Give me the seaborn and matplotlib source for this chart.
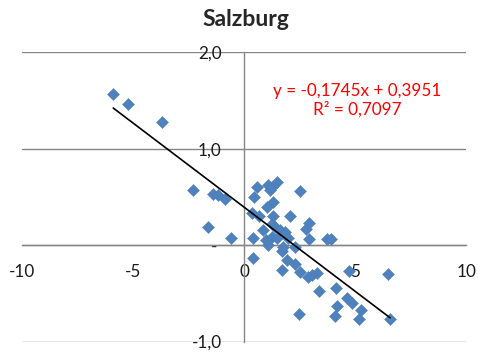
import matplotlib
matplotlib.use("Agg")
import matplotlib.pyplot as plt
import seaborn as sns
import numpy as np
import pandas as pd

# ---- data ----
x_vals = [-5.89, -5.24, -3.69, -2.31, -1.62, -1.38, -1.16, -0.86, -0.60,
          0.35, 0.42, 0.45, 0.60, 0.69, 0.42, 0.84, 0.99, 1.10, 1.02, 1.10,
          1.17, 1.25, 1.50, 1.32, 1.32, 1.25, 1.25, 1.47, 1.40, 1.62, 1.85,
          2.00, 2.07, 1.70, 1.77, 1.70, 1.95, 2.30, 2.30, 2.52, 2.52, 2.79,
          2.92, 2.94, 2.90, 3.05, 3.30, 3.39, 2.49, 3.72, 3.90, 4.14, 4.20,
          4.08, 4.74, 4.62, 4.85, 5.27, 5.18, 6.50, 6.58]
y_vals = [1.57, 1.46, 1.28, 0.57, 0.19, 0.535, 0.525, 0.48, 0.07,
          0.335, 0.07, 0.50, 0.60, 0.30, -0.13, 0.16, 0.05, 0.00, 0.40, 0.62,
          0.57, 0.60, 0.66, 0.45, 0.30, 0.22, 0.09, 0.07, 0.19, 0.155, 0.14,
          0.07, 0.30, -0.06, -0.02, -0.26, -0.155, -0.19, -0.02, 0.56, -0.28, 0.17,
          0.235, 0.06, -0.33, -0.31, -0.29, -0.47, -0.71, 0.06, 0.06, -0.44, -0.63,
          -0.73, -0.27, -0.55, -0.60, -0.67, -0.77, -0.30, -0.77]
slope = -0.1745
intercept = 0.3951
equation_text = "y = -0,1745x + 0,3951\nR² = 0,7097"
title_text = "Salzburg"
x_ticks = [-10, -5, 0, 5, 10]
x_tick_labels = ["-10", "-5", "0", "5", "10"]
y_ticks = [-1.0, 0.0, 1.0, 2.0]
y_tick_labels = ["-1,0", "- ", "1,0", "2,0"]

df = pd.DataFrame({"x": x_vals, "y": y_vals})

sns.set_style("white")
plt.rcParams["font.family"] = ["Lato", "DejaVu Sans"]

fig = plt.figure(figsize=(4.78, 3.54), dpi=100)
ax = fig.add_axes([0.046, 0.035, 0.929, 0.817])

grey = "#868686"
ax.set_xlim(-10, 10)
ax.set_ylim(-1, 2)
ax.set_yticks(y_ticks)
ax.set_yticklabels(y_tick_labels)
ax.set_xticks(x_ticks)
ax.set_xticklabels(x_tick_labels)
ax.yaxis.grid(True, color=grey, linewidth=1.0)
ax.xaxis.grid(False)
ax.set_axisbelow(True)

for s in ["top", "right"]:
    ax.spines[s].set_visible(False)
ax.spines["left"].set_position(("data", 0))
ax.spines["bottom"].set_position(("data", 0))
for s in ["left", "bottom"]:
    ax.spines[s].set_color(grey)
    ax.spines[s].set_linewidth(1.0)

ax.tick_params(axis="x", direction="out", length=5, width=1, color=grey,
               pad=8.5, labelsize=12.3, labelcolor="#1a1a1a")
ax.tick_params(axis="y", direction="out", length=4, width=1, color=grey,
               pad=12, labelsize=12.3, labelcolor="#1a1a1a")

sns.scatterplot(data=df, x="x", y="y", marker="D", s=38, color="#4F81BD",
                edgecolor="#4A7EBB", linewidth=0.3, ax=ax, zorder=3)

xl = np.array([min(x_vals), max(x_vals)])
ax.plot(xl, slope * xl + intercept, color="black", linewidth=1.2, zorder=4)

ax.text(5.1, 1.50, equation_text, color="#FF0000", fontsize=12.3,
        ha="center", va="center", multialignment="center", linespacing=1.15)

ax.set_xlabel("")
ax.set_ylabel("")

fig.text(246 / 478, 1 - 26.5 / 354, title_text, ha="center", va="baseline",
         fontsize=16.5, fontweight="bold")

fig.savefig("out.png", dpi=100)
